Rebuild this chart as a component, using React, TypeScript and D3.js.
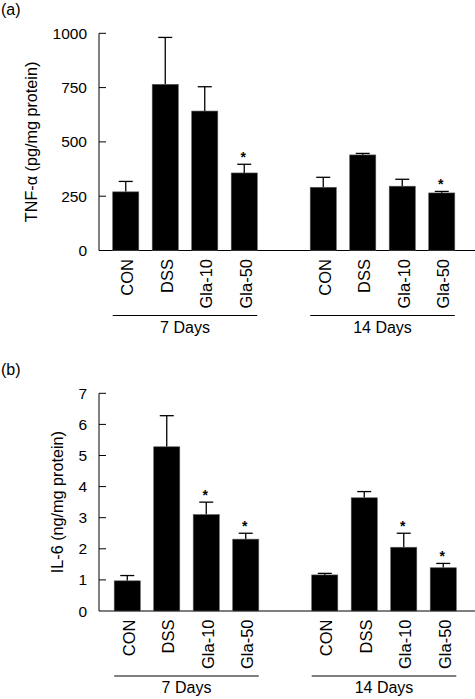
import React from "react";
import * as d3 from "d3";

const categories = ["CON", "DSS", "Gla-10", "Gla-50"];
const groups = ["7 Days", "14 Days"];

const tnfMeans = [270, 765, 642, 357, 291, 440, 296, 265];
const tnfErrors = [48, 216, 112, 40, 46, 7, 32, 7];
const tnfStars = [false, false, false, true, false, false, false, true];
const tnfTicks = [0, 250, 500, 750, 1000];

const il6Means = [0.97, 5.28, 3.1, 2.31, 1.16, 3.64, 2.05, 1.39];
const il6Errors = [0.17, 1.0, 0.4, 0.19, 0.05, 0.2, 0.45, 0.14];
const il6Stars = [false, false, true, true, false, false, true, true];
const il6Ticks = [0, 1, 2, 3, 4, 5, 6, 7];

const FONT = "'Liberation Sans', Arial, Helvetica, sans-serif";

type PanelProps = {
  tag: string;
  tagY: number;
  yLabel: string;
  yLabelX: number;
  means: number[];
  errors: number[];
  stars: boolean[];
  ticks: number[];
  yBottom: number;
  yTop: number;
  xShift: number;
};

function Panel(p: PanelProps) {
  const slots = d3.range(9).map(String);
  const x = d3
    .scaleBand<string>()
    .domain(slots)
    .range([106 + p.xShift, 461.5 + p.xShift])
    .paddingInner(0.34)
    .paddingOuter(0.17);
  const yMax = p.ticks[p.ticks.length - 1];
  const y = d3.scaleLinear().domain([0, yMax]).range([p.yBottom, p.yTop]);
  const slotOf = (i: number) => String(i < 4 ? i : i + 1);
  const axisX = 99;
  const bw = x.bandwidth();
  const capW = 14;

  const bars = p.means.map((m, i) => {
    const s = slotOf(i);
    const x0 = x(s)!;
    const cx = x0 + bw / 2;
    const top = y(m);
    const eTop = y(m + p.errors[i]);
    return (
      <g key={i}>
        <line x1={cx} x2={cx} y1={top} y2={eTop} stroke="#000" strokeWidth={1.3} />
        <line x1={cx - capW / 2} x2={cx + capW / 2} y1={eTop} y2={eTop} stroke="#000" strokeWidth={1.3} />
        <rect x={x0} y={top} width={bw} height={y(0) - top} fill="#000" stroke="#555" strokeWidth={0.6} />
        {p.stars[i] && (
          <text x={cx - 1} y={eTop - 2} textAnchor="middle" fontSize={14} fontWeight="bold" fontFamily={FONT}>
            *
          </text>
        )}
        <text
          transform={`translate(${cx + 1.5},${y(0) + 8.5}) rotate(-90)`}
          textAnchor="end"
          dy="0.36em"
          fontSize={16.5}
          fontFamily={FONT}
        >
          {categories[i % 4]}
        </text>
      </g>
    );
  });

  const lineY = y(0) + 65;
  const groupEls = groups.map((g, gi) => {
    const first = x(slotOf(gi * 4))!;
    const last = x(slotOf(gi * 4 + 3))! + bw;
    return (
      <g key={g}>
        <line x1={first} x2={last} y1={lineY} y2={lineY} stroke="#000" strokeWidth={1} />
        <text x={(first + last) / 2} y={lineY + 17} textAnchor="middle" fontSize={16} fontFamily={FONT}>
          {g}
        </text>
      </g>
    );
  });

  return (
    <g>
      <text x={1} y={p.tagY} fontSize={16} fontFamily={FONT}>
        {p.tag}
      </text>
      <line x1={axisX} x2={axisX} y1={y(0)} y2={y(yMax)} stroke="#000" strokeWidth={1} />
      <line x1={axisX} x2={475} y1={y(0)} y2={y(0)} stroke="#000" strokeWidth={1.2} />
      {p.ticks.map((t) => (
        <g key={t}>
          {t > 0 && <line x1={axisX} x2={axisX + 7} y1={y(t)} y2={y(t)} stroke="#000" strokeWidth={1} />}
          <text x={87} y={y(t)} dy="0.36em" textAnchor="end" fontSize={15.5} fontFamily={FONT}>
            {t}
          </text>
        </g>
      ))}
      <text
        transform={`translate(${p.yLabelX},${(p.yBottom + p.yTop) / 2}) rotate(-90)`}
        textAnchor="middle"
        fontSize={16.2}
        fontFamily={FONT}
      >
        {p.yLabel}
      </text>
      {bars}
      {groupEls}
    </g>
  );
}

export default function App() {
  return (
    <svg
      width={475}
      height={699}
      style={{ position: "absolute", left: 0, top: 0, background: "#fff" }}
    >
      <rect width={475} height={699} fill="#fff" />
      <Panel
        tag="(a)"
        tagY={15}
        yLabel="TNF-α (pg/mg protein)"
        yLabelX={37}
        means={tnfMeans}
        errors={tnfErrors}
        stars={tnfStars}
        ticks={tnfTicks}
        yBottom={250.5}
        yTop={33.3}
        xShift={0}
      />
      <Panel
        tag="(b)"
        tagY={375}
        yLabel="IL-6 (ng/mg protein)"
        yLabelX={63}
        means={il6Means}
        errors={il6Errors}
        stars={il6Stars}
        ticks={il6Ticks}
        yBottom={611}
        yTop={393.3}
        xShift={1.5}
      />
    </svg>
  );
}
